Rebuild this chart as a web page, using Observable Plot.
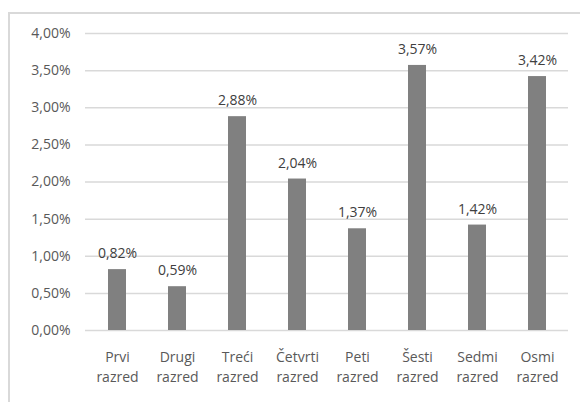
<!DOCTYPE html>
<html><head><meta charset="utf-8">
<script src="https://cdn.jsdelivr.net/npm/d3@7"></script>
<script src="https://cdn.jsdelivr.net/npm/@observablehq/plot@0.6"></script>
<style>
body{margin:0;background:#fff;}
#wrap{position:relative;width:580px;height:402px;overflow:hidden;}
#frame{position:absolute;left:8px;top:12px;width:600px;height:420px;border-top:2px solid #d9d9d9;border-left:2px solid #d9d9d9;}
#chart{position:absolute;left:0;top:0;}
</style></head>
<body><div id="wrap"><div id="frame"></div><div id="chart"></div></div>
<script>
const categories = ["Prvi razred","Drugi razred","Treći razred","Četvrti razred","Peti razred","Šesti razred","Sedmi razred","Osmi razred"];
const values = [0.82, 0.59, 2.88, 2.04, 1.37, 3.57, 1.42, 3.42];
const yTicks = [0, 0.5, 1, 1.5, 2, 2.5, 3, 3.5, 4];

const data = categories.map((c, i) => ({cat: c, v: values[i]}));
const fmt = d => d.toFixed(2).replace(".", ",") + "%";

const chart = Plot.plot({
  width: 580, height: 402,
  marginLeft: 85, marginRight: 12, marginTop: 33, marginBottom: 72,
  style: {fontFamily: "'Open Sans', sans-serif", fontSize: "14px", color: "#595959", background: "transparent"},
  x: {domain: categories, paddingInner: 0.7, paddingOuter: 0.35, label: null},
  y: {domain: [0, 4], ticks: yTicks, label: null},
  marks: [
    Plot.ruleY(yTicks, {stroke: "#d9d9d9", strokeWidth: 1.5, strokeOpacity: 1}),
    Plot.barY(data, {x: "cat", y: "v", fill: "#808080"}),
    Plot.text(data, {x: "cat", y: "v", text: d => fmt(d.v), dy: -16, fill: "#404040", fontSize: 14}),
    Plot.axisY({ticks: yTicks, tickSize: 0, tickPadding: 15, tickFormat: fmt, label: null, fontSize: 14}),
    Plot.axisX({tickSize: 0, tickPadding: 18, lineHeight: 1.4, fontSize: 14, label: null,
      tickFormat: d => d.replace(" ", "\n")})
  ]
});
document.getElementById("chart").append(chart);
</script>
</body></html>
